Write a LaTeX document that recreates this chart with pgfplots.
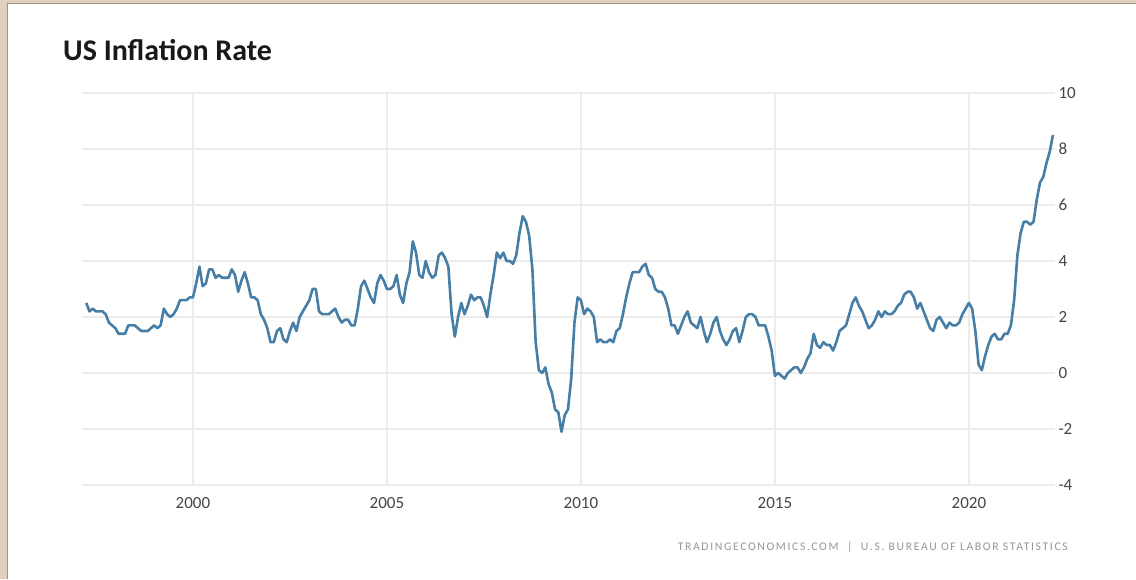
\documentclass[border=0pt]{standalone}
\usepackage{pgfplots}
\usepackage{pgfplotstable}
\pgfplotsset{compat=1.18}
\usepackage{fontspec}
\setmainfont{Carlito}
\newfontfamily\srcfont[LetterSpace=14]{Carlito}

\definecolor{frame}{RGB}{224,208,190}
\definecolor{frameline}{RGB}{160,146,126}
\definecolor{gridc}{RGB}{236,236,236}
\definecolor{linec}{RGB}{70,126,166}
\definecolor{tickc}{RGB}{70,70,70}
\definecolor{srcc}{RGB}{150,150,150}

% US CPI, year-on-year change in %, monthly from April 1997 to March 2022
\pgfplotstableread[row sep=\\]{
v\\
2.5\\2.2\\2.3\\2.2\\2.2\\2.2\\2.1\\1.8\\1.7\\
1.6\\1.4\\1.4\\1.4\\1.7\\1.7\\1.7\\1.6\\1.5\\1.5\\1.5\\1.6\\
1.7\\1.6\\1.7\\2.3\\2.1\\2.0\\2.1\\2.3\\2.6\\2.6\\2.6\\2.7\\
2.7\\3.2\\3.8\\3.1\\3.2\\3.7\\3.7\\3.4\\3.5\\3.4\\3.4\\3.4\\
3.7\\3.5\\2.9\\3.3\\3.6\\3.2\\2.7\\2.7\\2.6\\2.1\\1.9\\1.6\\
1.1\\1.1\\1.5\\1.6\\1.2\\1.1\\1.5\\1.8\\1.5\\2.0\\2.2\\2.4\\
2.6\\3.0\\3.0\\2.2\\2.1\\2.1\\2.1\\2.2\\2.3\\2.0\\1.8\\1.9\\
1.9\\1.7\\1.7\\2.3\\3.1\\3.3\\3.0\\2.7\\2.5\\3.2\\3.5\\3.3\\
3.0\\3.0\\3.1\\3.5\\2.8\\2.5\\3.2\\3.6\\4.7\\4.3\\3.5\\3.4\\
4.0\\3.6\\3.4\\3.5\\4.2\\4.3\\4.1\\3.8\\2.1\\1.3\\2.0\\2.5\\
2.1\\2.4\\2.8\\2.6\\2.7\\2.7\\2.4\\2.0\\2.8\\3.5\\4.3\\4.1\\
4.3\\4.0\\4.0\\3.9\\4.2\\5.0\\5.6\\5.4\\4.9\\3.7\\1.1\\0.1\\
0.0\\0.2\\-0.4\\-0.7\\-1.3\\-1.4\\-2.1\\-1.5\\-1.3\\-0.2\\1.8\\2.7\\
2.6\\2.1\\2.3\\2.2\\2.0\\1.1\\1.2\\1.1\\1.1\\1.2\\1.1\\1.5\\
1.6\\2.1\\2.7\\3.2\\3.6\\3.6\\3.6\\3.8\\3.9\\3.5\\3.4\\3.0\\
2.9\\2.9\\2.7\\2.3\\1.7\\1.7\\1.4\\1.7\\2.0\\2.2\\1.8\\1.7\\
1.6\\2.0\\1.5\\1.1\\1.4\\1.8\\2.0\\1.5\\1.2\\1.0\\1.2\\1.5\\
1.6\\1.1\\1.5\\2.0\\2.1\\2.1\\2.0\\1.7\\1.7\\1.7\\1.3\\0.8\\
-0.1\\0.0\\-0.1\\-0.2\\0.0\\0.1\\0.2\\0.2\\0.0\\0.2\\0.5\\0.7\\
1.4\\1.0\\0.9\\1.1\\1.0\\1.0\\0.8\\1.1\\1.5\\1.6\\1.7\\2.1\\
2.5\\2.7\\2.4\\2.2\\1.9\\1.6\\1.7\\1.9\\2.2\\2.0\\2.2\\2.1\\
2.1\\2.2\\2.4\\2.5\\2.8\\2.9\\2.9\\2.7\\2.3\\2.5\\2.2\\1.9\\
1.6\\1.5\\1.9\\2.0\\1.8\\1.6\\1.8\\1.7\\1.7\\1.8\\2.1\\2.3\\
2.5\\2.3\\1.5\\0.3\\0.1\\0.6\\1.0\\1.3\\1.4\\1.2\\1.2\\1.4\\
1.4\\1.7\\2.6\\4.2\\5.0\\5.4\\5.4\\5.3\\5.4\\6.2\\6.8\\7.0\\
7.5\\7.9\\8.5\\
}\cpi

\begin{document}
\begin{tikzpicture}
\useasboundingbox (0pt,0pt) rectangle (1136pt,579pt);
% page background: beige frame on the left and top, white panel
\fill[frame] (0pt,0pt) rectangle (1136pt,579pt);
\fill[white] (7pt,0pt) rectangle (1136pt,575pt);
\draw[frameline,line width=1pt] (7pt,0pt) -- (7pt,575pt) -- (1136pt,575pt);

\node[anchor=base west,inner sep=0,font=\fontsize{30}{35}\selectfont\bfseries,text=black!90]
  at (63pt,518pt) {US Inflation Rate};

\begin{axis}[
    at={(82pt,94pt)}, anchor=south west,
    scale only axis,
    width=973pt, height=392pt,
    xmin=1997.14, xmax=2022.22,
    ymin=-4, ymax=10,
    xtick={2000,2005,2010,2015,2020},
    ytick={-4,-2,0,2,4,6,8,10},
    x tick label style={/pgf/number format/1000 sep={}},
    yticklabel pos=right,
    major tick length=0pt,
    axis line style={draw=none},
    grid=major,
    major grid style={gridc,line width=1.5pt},
    tick label style={font=\fontsize{17}{20}\selectfont,text=tickc},
    xticklabel style={yshift=-9pt},
    /pgf/number format/assume math mode=true,
    clip=false,
]
\addplot[linec,line width=2.6pt,line join=round,mark=none]
    table[x expr={1997.25+\coordindex/12}, y=v] {\cpi};
\end{axis}

\node[anchor=east,inner sep=0,text=srcc] at (1068pt,32pt)
  {\resizebox{390pt}{!}{\srcfont\fontsize{12}{14}\selectfont TRADINGECONOMICS.COM\ \ |\ \ U.S.\ BUREAU\ OF\ LABOR\ STATISTICS}};
\end{tikzpicture}
\end{document}
